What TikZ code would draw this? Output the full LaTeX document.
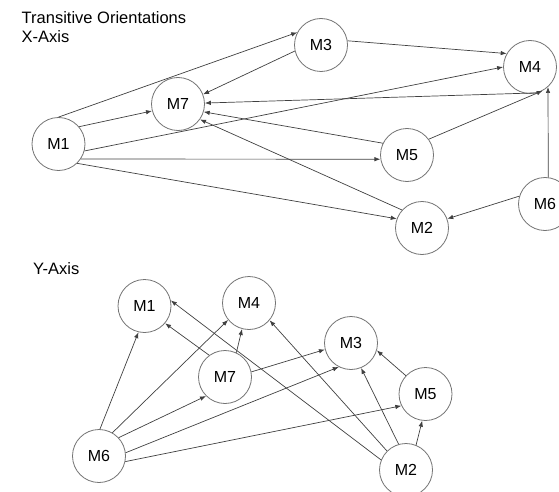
\documentclass[tikz,border=0pt]{standalone}
\usepackage{fontspec}
\setmainfont{Liberation Sans}
\usetikzlibrary{arrows.meta}
\begin{document}
\begin{tikzpicture}[x=1pt,y=-1pt,
  vert/.style={circle,draw=black!55,line width=0.8pt,minimum size=53pt,inner sep=0pt,
    font=\fontsize{16}{18}\selectfont},
  title/.style={anchor=base west,inner sep=0pt,font=\fontsize{16.5}{19}\selectfont},
  link/.style={draw=black!75,line width=0.7pt,-{Latex[length=6pt,width=4.5pt]}}]
\useasboundingbox (0,0) rectangle (559,492);

% headings
\node[title] (t1) at (21.5,24) {Transitive Orientations};
\node[title] (t2) at (21.5,43) {X-Axis};
\node[title] (t3) at (33,274) {Y-Axis};

% X-axis orientation
\node[vert] (a1) at (58.5,144) {M1};
\node[vert] (a7) at (178,104) {M7};
\node[vert] (a3) at (321,45) {M3};
\node[vert] (a4) at (530,67) {M4};
\node[vert] (a5) at (407,155) {M5};
\node[vert] (a2) at (422,228) {M2};
\node[vert] (a6) at (545,204) {M6};

\draw[link] (a1.90) -- (a3.152);
\draw[link] (a1.40) -- (a7.195);
\draw[link] (a1.-15) -- (a4.180);
\draw[link] (a1.-34) -- (a5.189);
\draw[link] (a1.-46) -- (a2.160);
\draw[link] (a3.193) -- (a7.21);
\draw[link] (a3.9) -- (a4.150);
\draw[link] (a4.-74) -- (a7.2);
\draw[link] (a5.154) -- (a7.-17);
\draw[link] (a2.138) -- (a7.-35);
\draw[link] (a5.36) -- (a4.-62);
\draw[link] (a6.83) -- (a4.-48);
\draw[link] (a6.163) -- (a2.20);

% Y-axis orientation
\node[vert] (b1) at (144.5,306) {M1};
\node[vert] (b4) at (249,303) {M4};
\node[vert] (b7) at (225,377) {M7};
\node[vert] (b6) at (99,456) {M6};
\node[vert] (b3) at (351,343) {M3};
\node[vert] (b5) at (425.5,394) {M5};
\node[vert] (b2) at (406,470) {M2};

\draw[link] (b6.88) -- (b1.-103);
\draw[link] (b6.60) -- (b4.-141);
\draw[link] (b6.43) -- (b7.-135);
\draw[link] (b6.7) -- (b3.-117);
\draw[link] (b6.-12) -- (b5.206);
\draw[link] (b7.126) -- (b1.-40);
\draw[link] (b7.65) -- (b4.-105);
\draw[link] (b7.11) -- (b3.194);
\draw[link] (b2.158) -- (b1.12);
\draw[link] (b2.135) -- (b4.-40);
\draw[link] (b2.106) -- (b3.-68);
\draw[link] (b2.68) -- (b5.-97);
\draw[link] (b5.137) -- (b3.-16);
\end{tikzpicture}
\end{document}
